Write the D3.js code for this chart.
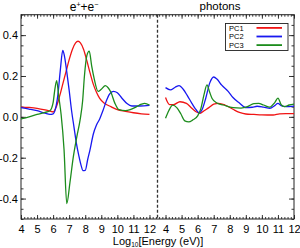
<!DOCTYPE html>
<html>
<head>
<meta charset="utf-8">
<script src="https://cdn.jsdelivr.net/npm/d3@7"></script>
<style>
  body { margin: 0; background: #fff; }
  text { font-family: "Liberation Sans", Arial, sans-serif; fill: #000; }
</style>
</head>
<body>
<div id="chart"></div>
<script>
// panels and series
var panels = ["e+e", "photons"];
var seriesNames = ["PC1", "PC2", "PC3"];
var seriesColors = ["#f01414", "#1818f0", "#1c8c1c"];
var xTicks = [4, 5, 6, 7, 8, 9, 10, 11, 12];
var yTicks = [-0.4, -0.2, 0.0, 0.2, 0.4];

// e+e- panel, [log10 E, value]
var eePC1 = [[4.0,0.048],[4.5,0.046],[5.0,0.042],[5.5,0.034],[5.8,0.028],[6.0,0.024],[6.2,0.05],
  [6.4,0.10],[6.6,0.16],[6.8,0.22],[7.0,0.28],[7.2,0.33],[7.4,0.362],[7.55,0.37],[7.7,0.362],
  [7.9,0.33],[8.1,0.275],[8.3,0.215],[8.5,0.16],[8.7,0.12],[8.9,0.09],[9.2,0.066],[9.6,0.05],
  [10.0,0.035],[10.5,0.027],[11.0,0.02],[11.5,0.015],[12.0,0.012]];
var eePC2 = [[4.0,0.045],[4.5,0.038],[5.0,0.03],[5.5,0.018],[5.8,0.012],[6.0,0.015],[6.15,0.04],
  [6.3,0.11],[6.45,0.23],[6.6,0.325],[6.7,0.30],[6.85,0.22],[7.0,0.13],[7.15,0.03],[7.3,-0.05],
  [7.45,-0.13],[7.6,-0.19],[7.75,-0.24],[7.85,-0.263],[8.0,-0.262],[8.15,-0.21],[8.3,-0.16],
  [8.5,-0.085],[8.7,-0.04],[8.9,-0.01],[9.1,0.03],[9.3,0.075],[9.5,0.11],[9.75,0.125],[10.0,0.118],
  [10.3,0.09],[10.6,0.065],[10.9,0.053],[11.4,0.053],[12.0,0.056]];
var eePC3 = [[4.0,-0.01],[4.5,0.0],[5.0,0.012],[5.5,0.022],[5.8,0.03],[6.0,0.07],[6.1,0.13],
  [6.22,0.177],[6.35,0.10],[6.5,0.01],[6.68,-0.16],[6.85,-0.425],[7.05,-0.32],[7.26,-0.195],
  [7.47,-0.10],[7.68,-0.015],[7.84,0.08],[7.95,0.20],[8.1,0.30],[8.25,0.322],[8.4,0.25],
  [8.55,0.19],[8.8,0.125],[9.0,0.135],[9.25,0.153],[9.45,0.14],[9.6,0.12],[9.85,0.066],
  [10.1,0.035],[10.5,0.03],[10.8,0.035],[11.2,0.05],[11.5,0.062],[11.7,0.066],[12.0,0.058]];

// photon panel
var phPC1 = [[4.0,0.095],[4.25,0.06],[4.5,0.06],[4.9,0.074],[5.3,0.066],[5.6,0.045],[5.9,0.025],
  [6.15,0.017],[6.4,0.03],[6.7,0.045],[7.0,0.062],[7.3,0.066],[7.7,0.058],[8.2,0.037],[8.6,0.022],
  [9.0,0.014],[9.5,0.012],[10.0,0.01],[10.7,0.009],[11.1,0.015],[11.5,0.016],[12.0,0.016]];
var phPC2 = [[4.0,0.143],[4.3,0.132],[4.6,0.145],[4.85,0.153],[5.1,0.135],[5.35,0.105],[5.65,0.065],
  [5.9,0.035],[6.1,0.02],[6.3,0.04],[6.5,0.09],[6.75,0.165],[7.0,0.195],[7.2,0.185],[7.5,0.155],
  [7.9,0.125],[8.2,0.095],[8.6,0.068],[9.0,0.045],[9.4,0.047],[9.7,0.052],[10.1,0.048],[10.5,0.042],
  [10.8,0.055],[11.0,0.066],[11.2,0.055],[11.5,0.05],[12.0,0.053]];
var phPC3 = [[4.0,-0.007],[4.2,0.03],[4.45,0.057],[4.7,0.045],[4.95,0.015],[5.2,-0.02],[5.45,-0.025],
  [5.7,-0.015],[6.0,0.005],[6.2,0.04],[6.4,0.11],[6.58,0.157],[6.75,0.12],[6.9,0.09],[7.2,0.068],
  [7.6,0.058],[8.2,0.045],[8.7,0.043],[9.1,0.05],[9.5,0.065],[9.8,0.066],[10.1,0.058],[10.5,0.048],
  [10.8,0.07],[11.0,0.092],[11.2,0.06],[11.4,0.05],[11.7,0.058],[12.0,0.062]];

var panelData = [[eePC1, eePC2, eePC3], [phPC1, phPC2, phPC3]];
var panelShift = [0, 9];   // photons panel sits 9 units to the right on the shared axis

var W = 300, H = 248;
var x0 = 21, x1 = 294, y0 = 14.7, y1 = 219;

var svg = d3.select("#chart").append("svg")
  .attr("width", W).attr("height", H);

// one shared x axis: 4..12 then (4..12)+9
var x = d3.scaleLinear().domain([4, 21]).range([x0, x1]);
var y = d3.scaleLinear().domain([-0.5, 0.5]).range([y1, y0]);

var allX = xTicks.concat(xTicks.map(function(d) { return d + 9; }));
var minorX = d3.range(4, 21.001, 0.2);
var minorY = d3.range(-0.5, 0.5001, 0.05);
var fmtX = function(d) { return d > 12 ? d - 9 : d; };

function styleAxis(g) {
  g.select(".domain").remove();
  g.selectAll("line").attr("stroke", "#222").attr("stroke-width", 0.9);
}

// minor ticks
svg.append("g").attr("transform", "translate(0," + y1 + ")")
  .call(d3.axisBottom(x).tickValues(minorX).tickSize(-2).tickFormat("")).call(styleAxis);
svg.append("g").attr("transform", "translate(0," + y0 + ")")
  .call(d3.axisTop(x).tickValues(minorX).tickSize(-2).tickFormat("")).call(styleAxis);
svg.append("g").attr("transform", "translate(" + x0 + ",0)")
  .call(d3.axisLeft(y).tickValues(minorY).tickSize(-2.5).tickFormat("")).call(styleAxis);
svg.append("g").attr("transform", "translate(" + x1 + ",0)")
  .call(d3.axisRight(y).tickValues(minorY).tickSize(-2.5).tickFormat("")).call(styleAxis);

// major ticks
var xb = svg.append("g").attr("transform", "translate(0," + y1 + ")")
  .call(d3.axisBottom(x).tickValues(allX).tickSize(-4).tickPadding(6).tickFormat(fmtX))
  .call(styleAxis);
xb.selectAll("text").style("font-size", "11px");
svg.append("g").attr("transform", "translate(0," + y0 + ")")
  .call(d3.axisTop(x).tickValues(allX).tickSize(-4).tickFormat("")).call(styleAxis);
var yl = svg.append("g").attr("transform", "translate(" + x0 + ",0)")
  .call(d3.axisLeft(y).tickValues(yTicks).tickSize(-5).tickPadding(3)
    .tickFormat(function(d) { return d.toFixed(1); }))
  .call(styleAxis);
yl.selectAll("text").style("font-size", "11px");
svg.append("g").attr("transform", "translate(" + x1 + ",0)")
  .call(d3.axisRight(y).tickValues(yTicks).tickSize(-5).tickFormat("")).call(styleAxis);

// frame
svg.append("rect")
  .attr("x", x0).attr("y", y0)
  .attr("width", x1 - x0).attr("height", y1 - y0)
  .attr("fill", "none").attr("stroke", "#222").attr("stroke-width", 1);

// divider between the panels
svg.append("line")
  .attr("x1", x(12.5)).attr("x2", x(12.5))
  .attr("y1", y0).attr("y2", y1)
  .attr("stroke", "#333").attr("stroke-width", 1.3)
  .attr("stroke-dasharray", "3,2");

// curves
var line = d3.line().curve(d3.curveMonotoneX);
panelData.forEach(function(set, p) {
  set.forEach(function(pts, i) {
    svg.append("path")
      .datum(pts)
      .attr("fill", "none")
      .attr("stroke", seriesColors[i])
      .attr("stroke-width", 1.3)
      .attr("stroke-linejoin", "round")
      .attr("d", line.x(function(d) { return x(d[0] + panelShift[p]); })
                     .y(function(d) { return y(d[1]); }));
  });
});

// panel titles
var t1 = svg.append("text")
  .attr("x", 84).attr("y", 10.5)
  .attr("text-anchor", "middle")
  .style("font-size", "12px");
t1.append("tspan").text("e");
t1.append("tspan").attr("dy", -4).style("font-size", "7px").text("+");
t1.append("tspan").attr("dy", 4).text("+e");
t1.append("tspan").attr("dy", -4).style("font-size", "7px").text("\u2212");

svg.append("text")
  .attr("x", 220).attr("y", 10)
  .attr("text-anchor", "middle")
  .style("font-size", "11.5px")
  .text(panels[1]);

// x axis title
var xt = svg.append("text")
  .attr("x", 158).attr("y", 245)
  .attr("text-anchor", "middle")
  .style("font-size", "11px");
xt.append("tspan").text("Log");
xt.append("tspan").attr("dy", 2).style("font-size", "6.5px").text("10");
xt.append("tspan").attr("dy", -2).text("[Energy (eV)]");

// legend
var lg = svg.append("g").attr("transform", "translate(225.5,23.5)");
lg.append("rect")
  .attr("width", 62.5).attr("height", 27)
  .attr("fill", "#fff").attr("stroke", "#222").attr("stroke-width", 0.9);
var item = lg.selectAll(".item")
  .data(seriesNames)
  .enter().append("g")
  .attr("class", "item")
  .attr("transform", function(d, i) { return "translate(0," + (i * 8.6) + ")"; });
item.append("text")
  .attr("x", 3.5).attr("y", 7)
  .style("font-size", "7.5px")
  .text(function(d) { return d; });
item.append("line")
  .attr("x1", 31).attr("x2", 56.5)
  .attr("y1", 4.4).attr("y2", 4.4)
  .attr("stroke", function(d, i) { return seriesColors[i]; })
  .attr("stroke-width", 1.8);
</script>
</body>
</html>
